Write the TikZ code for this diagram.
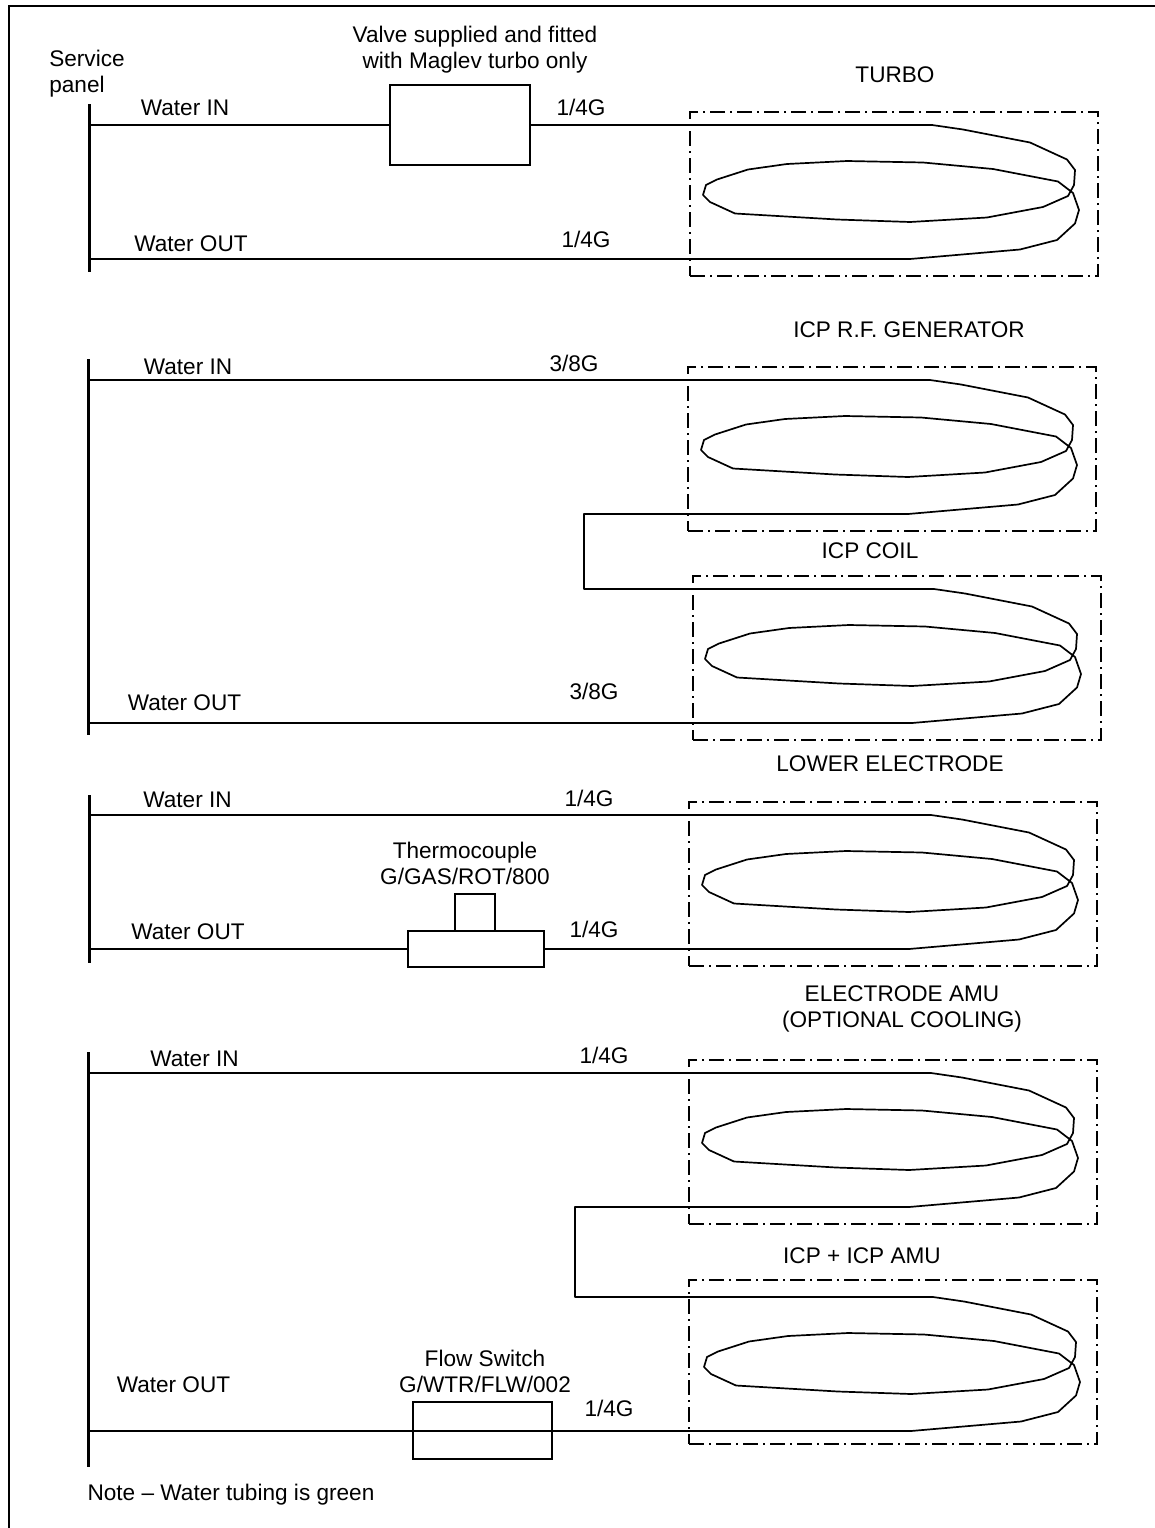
\documentclass[tikz,border=0pt]{standalone}
\usepackage{fontspec}
\setmainfont{Liberation Sans}
\usetikzlibrary{positioning,calc}
\tikzset{
  tube/.style={black,line width=1.7pt,line join=round},
  bar/.style={black,line width=3pt},
  partbox/.style={draw=black,line width=1.6pt,inner sep=0pt,outer sep=0pt,anchor=north west},
  coilbox/.style={draw=black,line width=1.5pt,inner sep=0pt,outer sep=0pt,anchor=north west,
    minimum width=408pt,minimum height=164pt,dash pattern=on 15pt off 5pt on 2pt off 5pt},
  lab/.style={inner sep=0pt,anchor=base},
  lab2/.style={inner sep=0pt,align=center,font=\fontsize{22.6}{26}\selectfont},
  coil/.pic={
    \coordinate (-in) at (0,13);
    \coordinate (-out) at (0,147);
    \draw[tube] (-in) -- (242,13) -- (273,17.5) -- (340,30.5) -- (377,47.5) -- (385,58) -- (384,73) -- (378,84)
      -- (353,95) -- (297,105.5) -- (220,110) -- (147,107.5) -- (45,101.5) -- (20,90) -- (13,83) -- (16,73)
      -- (27,67.5) -- (58,57.5) -- (97,52) -- (157,49) -- (233,50.5) -- (303,57) -- (368,69.5) -- (383,81)
      -- (389,98) -- (385,111.5) -- (367,128) -- (330,137.5) -- (220,147) -- (-out);
  }
}
\begin{document}
\begin{tikzpicture}[x=1pt,y=-1pt,font=\fontsize{22.6}{26}\selectfont]
  \useasboundingbox (0,0) rectangle (1155,1528);
  % outer frame
  \coordinate (framebl) at (9,1528);
  \coordinate (frametr) at (1155,6);
  \draw[black,line width=2pt] (framebl) |- (frametr);
  % service panels
  \foreach \n/\x/\a/\b in {panelA/89/104/272, panelB/88/359/735, panelC/89/795/963, panelD/88/1052/1467} {
    \coordinate (\n top) at (\x,\a);
    \coordinate (\n bot) at (\x,\b);
    \draw[bar] (\n top) -- (\n bot);
  }
  % coils : name / box x / box y / coil x / coil y
  \foreach \n/\bx/\by/\cx/\cy in {turbo/690/112/690/112, generator/688/367/688/367, icpcoil/693/576/692/576,
      lower/689/802/689/802, electrode/689/1060/689/1060, icpamu/689/1280/691/1284} {
    \node[coilbox] (box\n) at (\bx,\by) {};
    \path (\cx,\cy) pic (\n) {coil};
  }
  % inline parts
  \node[partbox,minimum width=140pt,minimum height=80pt] (valve) at (390,85) {};
  \node[partbox,minimum width=136pt,minimum height=36pt] (thermobody) at (408,931) {};
  \node[partbox,minimum width=40pt,minimum height=37pt] (thermotop) at (455,894) {};
  \node[partbox,minimum width=139pt,minimum height=57pt] (flowswitch) at (413,1402) {};
  % turbo
  \draw[tube] (panelAtop |- valve.west) -- (valve.west);
  \draw[tube] (valve.east) -- (turbo-in);
  \draw[tube] (panelAtop |- turbo-out) -- (turbo-out);
  % generator + coil
  \coordinate (loopB) at (584,550);
  \draw[tube] (panelBtop |- generator-in) -- (generator-in);
  \draw[tube] (generator-out) -| (loopB) |- (icpcoil-in);
  \draw[tube] (panelBtop |- icpcoil-out) -- (icpcoil-out);
  % lower electrode
  \draw[tube] (panelCtop |- lower-in) -- (lower-in);
  \draw[tube] (panelCtop |- thermobody.west) -- (thermobody.west);
  \draw[tube] (thermobody.east) -- (lower-out);
  % electrode amu + icp amu
  \coordinate (loopD) at (575,1250);
  \draw[tube] (panelDtop |- electrode-in) -- (electrode-in);
  \draw[tube] (electrode-out) -| (loopD) |- (icpamu-in);
  \draw[tube] (panelDtop |- icpamu-out) -- (icpamu-out);
  % labels : name / x / baseline / text
  \foreach \n/\x/\y/\t in {inA/185/115/Water IN, outA/191/251/Water OUT, gaugeA/581/115/{1/4G}, gaugeB/586/247/{1/4G},
      titleA/895/82/TURBO, inB/188/374/Water IN, outB/184.5/710/Water OUT, gaugeC/574/371/{3/8G}, gaugeD/594/699/{3/8G},
      titleB/909/337/ICP R.F. GENERATOR, titleC/870/558/ICP COIL, titleD/890/771/LOWER ELECTRODE,
      inC/187.5/807/Water IN, outC/188/939/Water OUT, gaugeE/589/806/{1/4G}, gaugeF/594/937/{1/4G},
      inD/194.5/1066/Water IN, outD/173.5/1392/Water OUT, gaugeG/604/1063/{1/4G}, gaugeH/609/1416/{1/4G},
      titleF/862/1263/ICP + ICP AMU, note/231/1500/Note – Water tubing is green} {
    \node[lab] (\n) at (\x,\y) {\t};
  }
  % two line labels
  \node[lab2,align=left] (panelname) at (87,74) {Service\\panel};
  \node[lab2] (valvename) at (475,50) {Valve supplied and fitted\\with Maglev turbo only};
  \node[lab2] (thermoname) at (465,863) {Thermocouple\\G/GAS/ROT/800};
  \node[lab2] (titleE) at (902,1009) {ELECTRODE AMU\\(OPTIONAL COOLING)};
  \node[lab2] (flowname) at (485,1371) {Flow Switch\\G/WTR/FLW/002};
\end{tikzpicture}
\end{document}
